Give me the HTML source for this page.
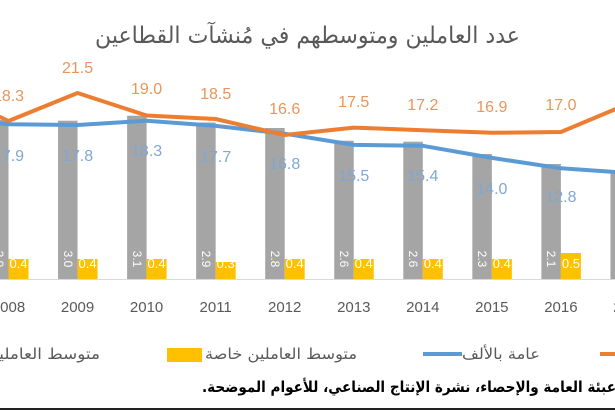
<!DOCTYPE html>
<html>
<head>
<meta charset="utf-8">
<style>
html,body{margin:0;padding:0;background:#fff;width:615px;height:410px;overflow:hidden}
svg{display:block}
.ar{font-family:"DejaVu Sans",sans-serif}
.num{font-family:"Liberation Sans",sans-serif}
</style>
</head>
<body>
<svg width="615" height="410" viewBox="0 0 615 410" xmlns="http://www.w3.org/2000/svg">
<rect width="615" height="410" fill="#fff"/>

<!-- Title -->
<text class="ar" x="307.5" y="43" font-size="23" fill="#595959" text-anchor="middle" direction="rtl" textLength="425" lengthAdjust="spacingAndGlyphs">عدد العاملين ومتوسطهم في مُنشآت القطاعين</text>

<!-- axis baseline -->
<line x1="0" y1="279.5" x2="615" y2="279.5" stroke="#d9d9d9" stroke-width="1"/>

<!-- grey bars (x = cx-19.5 .. cx) -->
<g fill="#a5a5a5">
<rect x="-11" y="120" width="19.5" height="159"/>
<rect x="58.05" y="120.7" width="19.5" height="158.3"/>
<rect x="127.1" y="115.7" width="19.5" height="163.3"/>
<rect x="196.15" y="122.5" width="19.5" height="156.5"/>
<rect x="265.2" y="128" width="19.5" height="151"/>
<rect x="334.25" y="140.7" width="19.5" height="138.3"/>
<rect x="403.3" y="141.7" width="19.5" height="137.3"/>
<rect x="472.35" y="154" width="19.5" height="125"/>
<rect x="541.4" y="164" width="19.5" height="115"/>
<rect x="610.45" y="170" width="19.5" height="109"/>
</g>
<!-- yellow bars -->
<g fill="#ffc000">
<rect x="8.5" y="259" width="20" height="20"/>
<rect x="77.55" y="259" width="20" height="20"/>
<rect x="146.6" y="259" width="20" height="20"/>
<rect x="215.65" y="262" width="20" height="17"/>
<rect x="284.7" y="259" width="20" height="20"/>
<rect x="353.75" y="259" width="20" height="20"/>
<rect x="422.8" y="259" width="20" height="20"/>
<rect x="491.85" y="259" width="20" height="20"/>
<rect x="560.9" y="253" width="20" height="26"/>
</g>

<!-- grey bar labels (rotated) -->
<g class="num" font-size="12" fill="#fff" text-anchor="middle">
<text transform="translate(-1.25,259) rotate(90)" y="4">2.9</text>
<text transform="translate(67.8,259) rotate(90)" y="4">3.0</text>
<text transform="translate(136.85,259) rotate(90)" y="4">3.1</text>
<text transform="translate(205.9,259) rotate(90)" y="4">2.9</text>
<text transform="translate(274.95,259) rotate(90)" y="4">2.8</text>
<text transform="translate(344,259) rotate(90)" y="4">2.6</text>
<text transform="translate(413.05,259) rotate(90)" y="4">2.6</text>
<text transform="translate(482.1,259) rotate(90)" y="4">2.3</text>
<text transform="translate(551.15,259) rotate(90)" y="4">2.1</text>
<text transform="translate(620.2,259) rotate(90)" y="4">2.0</text>
</g>
<!-- yellow bar labels -->
<g class="num" font-size="13" fill="#fff" text-anchor="middle">
<text x="18.5" y="268">0.4</text>
<text x="87.55" y="268">0.4</text>
<text x="156.6" y="268">0.4</text>
<text x="225.65" y="268">0.3</text>
<text x="294.7" y="268">0.4</text>
<text x="363.75" y="268">0.4</text>
<text x="432.8" y="268">0.4</text>
<text x="501.85" y="268">0.4</text>
<text x="570.9" y="268">0.5</text>
</g>

<!-- blue line -->
<polyline fill="none" stroke="#5b9bd5" stroke-width="4" stroke-linejoin="round" stroke-linecap="round"
points="-60.55,117 8.5,124.2 77.55,125 146.6,120.7 215.65,125.9 284.7,133.7 353.75,144.9 422.8,145.8 491.85,157.9 560.9,168.3 629.95,173"/>
<!-- orange line -->
<polyline fill="none" stroke="#ed7d31" stroke-width="4" stroke-linejoin="round" stroke-linecap="round"
points="-60.55,88 8.5,121 77.55,93 146.6,115.5 215.65,119 284.7,135 353.75,127.6 422.8,130.2 491.85,132.8 560.9,132 629.95,103"/>

<!-- orange labels -->
<g class="num" font-size="16" fill="#e9955b" text-anchor="middle">
<text x="8.5" y="101">18.3</text>
<text x="77.55" y="73">21.5</text>
<text x="146.6" y="94">19.0</text>
<text x="215.65" y="99">18.5</text>
<text x="284.7" y="114">16.6</text>
<text x="353.75" y="107">17.5</text>
<text x="422.8" y="110">17.2</text>
<text x="491.85" y="112">16.9</text>
<text x="560.9" y="110">17.0</text>
</g>
<!-- blue labels -->
<g class="num" font-size="16" fill="#7fa7d3" text-anchor="middle">
<text x="8.5" y="161">17.9</text>
<text x="77.55" y="161">17.8</text>
<text x="146.6" y="156">18.3</text>
<text x="215.65" y="162">17.7</text>
<text x="284.7" y="169">16.8</text>
<text x="353.75" y="181">15.5</text>
<text x="422.8" y="181">15.4</text>
<text x="491.85" y="194">14.0</text>
<text x="560.9" y="202">12.8</text>
</g>

<!-- year labels -->
<g class="num" font-size="15" fill="#595959" text-anchor="middle">
<text x="8.5" y="312">2008</text>
<text x="77.55" y="312">2009</text>
<text x="146.6" y="312">2010</text>
<text x="215.65" y="312">2011</text>
<text x="284.7" y="312">2012</text>
<text x="353.75" y="312">2013</text>
<text x="422.8" y="312">2014</text>
<text x="491.85" y="312">2015</text>
<text x="560.9" y="312">2016</text>
<text x="629.95" y="312">2017</text>
</g>

<!-- legend -->
<line x1="600" y1="354" x2="630" y2="354" stroke="#ed7d31" stroke-width="4"/>
<text class="ar" x="501" y="359" font-size="15" fill="#595959" text-anchor="middle" direction="rtl" textLength="78" lengthAdjust="spacingAndGlyphs">عامة بالألف</text>
<line x1="423" y1="354" x2="462" y2="354" stroke="#5b9bd5" stroke-width="4"/>
<text class="ar" x="281" y="359" font-size="15" fill="#595959" text-anchor="middle" direction="rtl" textLength="152" lengthAdjust="spacingAndGlyphs">متوسط العاملين خاصة</text>
<rect x="167" y="348" width="35" height="14" fill="#ffc000"/>
<text class="ar" x="24" y="359" font-size="15" fill="#595959" text-anchor="middle" direction="rtl" textLength="152" lengthAdjust="spacingAndGlyphs">متوسط العاملين عامة</text>

<!-- footer -->
<text class="ar" x="409" y="392" font-size="15" font-weight="bold" fill="#000" text-anchor="middle" direction="rtl" textLength="414" lengthAdjust="spacingAndGlyphs">عبئة العامة والإحصاء، نشرة الإنتاج الصناعي، للأعوام الموضحة.</text>
<rect x="0" y="408" width="615" height="2" fill="#222"/>
</svg>
</body>
</html>
